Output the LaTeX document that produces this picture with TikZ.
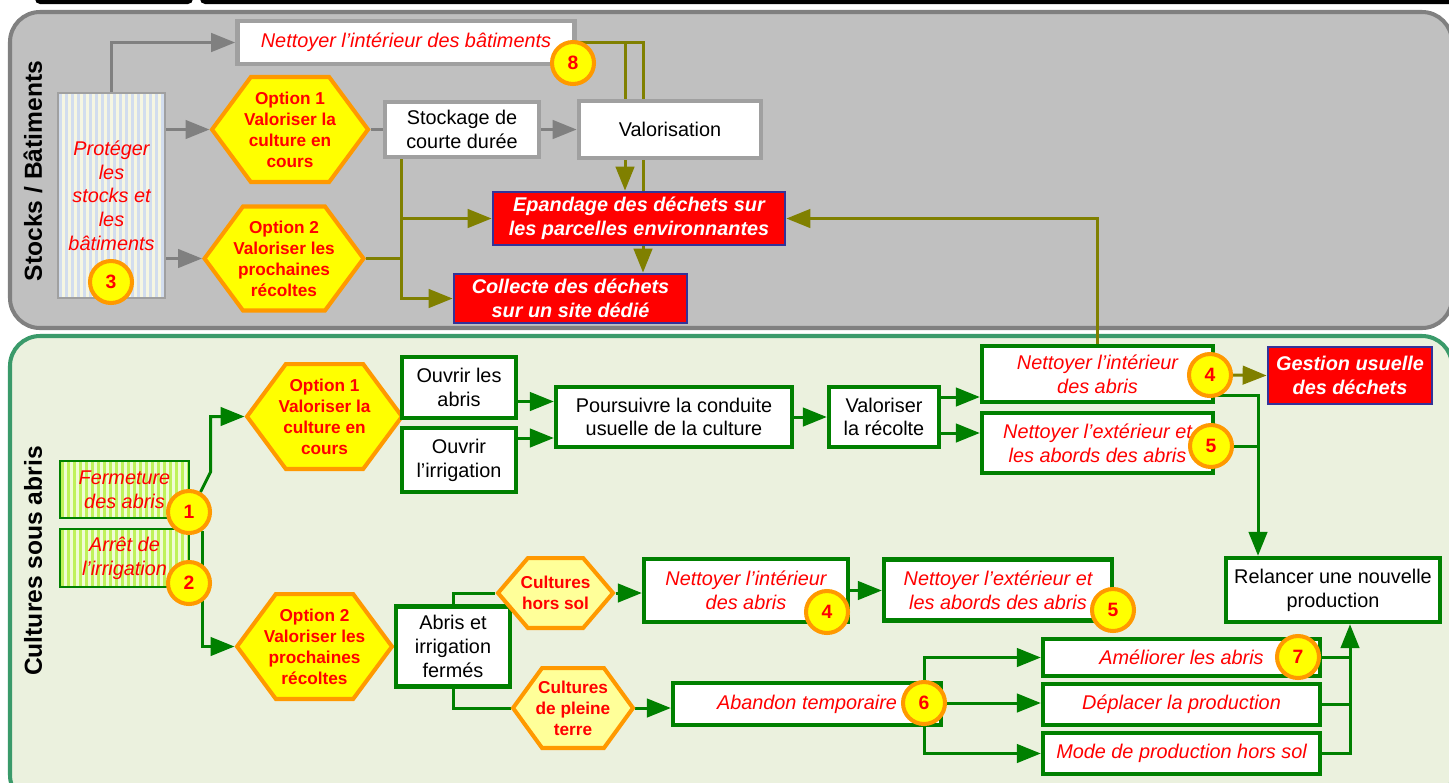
\documentclass[tikz,border=0pt]{standalone}
\usepackage{fontspec}
\setmainfont{Liberation Sans}
\usetikzlibrary{shapes.symbols,arrows.meta,calc}

\definecolor{panelgris}{HTML}{C0C0C0}
\definecolor{bordgris}{HTML}{808080}
\definecolor{panelvert}{HTML}{EBF1DE}
\definecolor{bordvert}{HTML}{3A9A6A}
\definecolor{vertf}{HTML}{008000}
\definecolor{kaki}{HTML}{808000}
\definecolor{orangeh}{HTML}{FF9900}
\definecolor{jaune}{HTML}{FFFF00}
\definecolor{jaunep}{HTML}{FFFF99}
\definecolor{rouge}{HTML}{FF0000}
\definecolor{marine}{HTML}{333399}
\definecolor{grisbox}{HTML}{A0A0A0}
\definecolor{rayebleu}{HTML}{D2DDEE}
\definecolor{rayecreme}{HTML}{F6F6E2}
\definecolor{rayevert}{HTML}{BFF25A}
\definecolor{rayevertp}{HTML}{F0FBD6}

\pgfdeclarelayer{fond}
\pgfdeclarelayer{fils}
\pgfsetlayers{fond,fils,main}

\tikzset{
  txt/.style={font=\fontsize{11.3}{13.5}\selectfont, align=center, inner sep=0pt},
  boitegris/.style={txt, draw=grisbox, line width=2.7pt, fill=white},
  boitevert/.style={txt, draw=vertf, line width=2.5pt, fill=white},
  action/.style={text=rouge, font=\fontsize{11.3}{13.5}\selectfont\itshape},
  dechet/.style={txt, draw=marine, line width=1.6pt, fill=rouge, text=white,
    font=\fontsize{11.3}{13.5}\selectfont\bfseries\itshape},
  hexa/.style={shape=signal, signal to=east and west, draw=orangeh, fill=jaune,
    line width=2.3pt, inner sep=0pt},
  hextxt/.style={text=rouge, align=center, inner sep=0pt,
    font=\fontsize{9.8}{11.9}\selectfont\bfseries},
  num/.style={circle, draw=orangeh, fill=jaune, line width=2.3pt, minimum size=0.84cm,
    inner sep=0pt, text=rouge, font=\fontsize{11}{13}\selectfont\bfseries},
  rayeb/.style={txt, action, draw=grisbox, line width=1.1pt, fill=rayecreme,
    path picture={\foreach \k in {0,...,40}{\fill[rayebleu]
      ($(path picture bounding box.north west)+(\k*6+1,0)$) rectangle ++(3,300);}}},
  rayev/.style={txt, action, draw=vertf, line width=1.1pt, fill=rayevertp,
    path picture={\foreach \k in {0,...,40}{\fill[rayevert]
      ($(path picture bounding box.north west)+(\k*6+1,0)$) rectangle ++(3,300);}}},
  fleche/.style={line width=1.7pt, -{Triangle[length=0.48cm,width=0.37cm]}},
  trait/.style={line width=1.7pt}
}

\begin{document}
\begin{tikzpicture}[x=0.02cm, y=-0.02cm]
  \useasboundingbox (0,0) rectangle (1449,782);

  \begin{pgfonlayer}{fond}
    \fill[black, rounded corners=0.1cm] (35,-10) rectangle (193,4);
    \fill[black, rounded corners=0.1cm] (200,-10) rectangle (1470,4);
    \draw[draw=bordgris, fill=panelgris, line width=2.3pt, rounded corners=0.6cm] (10,12) rectangle (1452,328);
    \draw[draw=bordvert, fill=panelvert, line width=2.3pt, rounded corners=0.6cm] (10,336) rectangle (1452,805);
  \end{pgfonlayer}

  \node[rotate=90, font=\fontsize{14}{16}\selectfont\bfseries] (lstock) at (33,171) {Stocks / Bâtiments};
  \node[rotate=90, font=\fontsize{14}{16}\selectfont\bfseries] (lcult) at (33,561) {Cultures sous abris};

  % stocks et batiments
  \node[rayeb, minimum width=2.14cm, minimum height=4.1cm] (prot) at (111.5,195.5) {Protéger\\les\\stocks et\\les\\bâtiments};
  \node[boitegris, action, minimum width=6.74cm, minimum height=0.86cm] (nbat) at (406,42.5) {Nettoyer l’intérieur des bâtiments};
  \node[hexa, signal pointer angle=107, minimum width=3.12cm, minimum height=2.1cm,
    label={[hextxt]center:Option 1\\Valoriser la\\culture en\\cours}] (opt1) at (290,129.5) {};
  \node[hexa, signal pointer angle=107, minimum width=3.18cm, minimum height=2.08cm,
    label={[hextxt]center:Option 2\\Valoriser les\\prochaines\\récoltes}] (opt2) at (284,258.5) {};
  \node[boitegris, minimum width=3.08cm, minimum height=1.1cm] (stock) at (462,129.5) {Stockage de\\courte durée};
  \node[boitegris, minimum width=3.64cm, minimum height=1.14cm] (valo) at (670,129.5) {Valorisation};
  \node[dechet, minimum width=5.84cm, minimum height=1.06cm] (epan) at (639,218.5) {Epandage des déchets sur\\les parcelles environnantes};
  \node[dechet, minimum width=4.66cm, minimum height=0.98cm] (coll) at (570.5,298.5) {Collecte des déchets\\sur un site dédié};
  \node[num] (c3) at (111,282) {3};
  \node[num] (c8) at (573,63) {8};

  % cultures sous abris
  \node[rayev, minimum width=2.58cm, minimum height=1.14cm] (ferm) at (124.5,489.5) {Fermeture\\des abris};
  \node[rayev, minimum width=2.58cm, minimum height=1.16cm] (arret) at (124.5,558) {Arrêt de\\l’irrigation};
  \node[hexa, signal pointer angle=107, minimum width=3.1cm, minimum height=2.1cm,
    label={[hextxt]center:Option 1\\Valoriser la\\culture en\\cours}] (bopt1) at (324.5,416.5) {};
  \node[hexa, signal pointer angle=107, minimum width=3.1cm, minimum height=2.1cm,
    label={[hextxt]center:Option 2\\Valoriser les\\prochaines\\récoltes}] (bopt2) at (314.5,646.5) {};
  \node[boitevert, minimum width=2.28cm, minimum height=1.22cm] (oabr) at (459,387.5) {Ouvrir les\\abris};
  \node[boitevert, minimum width=2.28cm, minimum height=1.28cm] (oirr) at (459,460) {Ouvrir\\l’irrigation};
  \node[boitevert, minimum width=4.72cm, minimum height=1.2cm] (pours) at (674,417) {Poursuivre la conduite\\usuelle de la culture};
  \node[boitevert, minimum width=2.2cm, minimum height=1.2cm] (vrec) at (884,417) {Valoriser\\la récolte};
  \node[boitevert, action, minimum width=4.62cm, minimum height=1.12cm] (nint) at (1097.5,374) {Nettoyer l’intérieur\\des abris};
  \node[boitevert, action, minimum width=4.62cm, minimum height=1.2cm] (next) at (1097.5,443) {Nettoyer l’extérieur et\\les abords des abris};
  \node[dechet, minimum width=3.28cm, minimum height=1.14cm] (gest) at (1350,375.5) {Gestion usuelle\\des déchets};
  \node[boitevert, minimum width=4.28cm, minimum height=1.28cm] (relan) at (1333,590) {Relancer une nouvelle\\production};
  \node[boitevert, minimum width=2.28cm, minimum height=1.6cm] (abfe) at (453,646.5) {Abris et\\irrigation\\fermés};
  \node[hexa, fill=jaunep, signal pointer angle=99, minimum width=2.3cm, minimum height=1.4cm,
    label={[hextxt]center:Cultures\\hors sol}] (hors) at (555.5,593) {};
  \node[hexa, fill=jaunep, signal pointer angle=108, minimum width=2.4cm, minimum height=1.6cm,
    label={[hextxt]center:Cultures\\de pleine\\terre}] (plein) at (573,708) {};
  \node[boitevert, action, minimum width=4.08cm, minimum height=1.26cm] (nint2) at (746,590.5) {Nettoyer l’intérieur\\des abris};
  \node[boitevert, action, minimum width=4.56cm, minimum height=1.22cm] (next2) at (998,590) {Nettoyer l’extérieur et\\les abords des abris};
  \node[boitevert, action, minimum width=5.36cm, minimum height=0.84cm] (aban) at (807,704) {Abandon temporaire};
  \node[boitevert, action, minimum width=5.54cm, minimum height=0.74cm] (amel) at (1181.5,657.5) {Améliorer les abris};
  \node[boitevert, action, minimum width=5.54cm, minimum height=0.82cm] (depl) at (1181.5,704.5) {Déplacer la production};
  \node[boitevert, action, minimum width=5.54cm, minimum height=0.82cm] (mode) at (1181.5,753.5) {Mode de production hors sol};
  \node[num] (c1) at (189,512) {1};
  \node[num] (c2) at (189,583) {2};
  \node[num] (c4a) at (1210,375) {4};
  \node[num] (c5a) at (1211,446) {5};
  \node[num] (c4b) at (827,612) {4};
  \node[num] (c5b) at (1113,610) {5};
  \node[num] (c6) at (924,703) {6};
  \node[num] (c7) at (1298,657) {7};

  \begin{pgfonlayer}{fils}
    \draw[fleche, bordgris] (prot.north) |- (nbat.west);
    \draw[fleche, bordgris] (prot.east |- opt1) -- (opt1.west);
    \draw[fleche, bordgris] (prot.east |- opt2) -- (opt2.west);
    \draw[trait, bordgris] (opt1.east) -- (stock.west);
    \draw[fleche, bordgris] (stock.east) -- (valo.west);

    \coordinate (sb) at ($(stock.south west)+(19,0)$);
    \draw[fleche, kaki] (sb) |- (epan.west);
    \draw[fleche, kaki] (sb) |- (coll.west);
    \draw[trait, kaki] (opt2.east) -- (opt2.east -| sb);
    \draw[fleche, kaki] (nbat.east) -| ($(epan.north)+(-14,0)$);
    \draw[fleche, kaki] (nbat.east) -| ($(coll.north)+(72.5,0)$);
    \draw[fleche, kaki] (nint.north) |- (epan.east);
    \draw[fleche, kaki] (c4a.east) -- (gest.west);

    \draw[fleche, vertf] (c1.60) -- ++(10,-20) |- (bopt1.west);
    \draw[fleche, vertf] (c1.-55) |- (bopt2.west);
    \coordinate (ya) at ($(oabr.east)+(0,14)$);
    \coordinate (yb) at ($(oirr.east)+(0,-22)$);
    \draw[fleche, vertf] (ya) -- (ya -| pours.west);
    \draw[fleche, vertf] (yb) -- (yb -| pours.west);
    \draw[fleche, vertf] (pours.east) -- (vrec.west);
    \coordinate (yc) at ($(vrec.east)+(0,-20)$);
    \coordinate (yd) at ($(vrec.east)+(0,16)$);
    \draw[fleche, vertf] (yc) -- (yc -| nint.west);
    \draw[fleche, vertf] (yd) -- (yd -| next.west);
    \coordinate (bus) at ($(relan.north)+(-75,0)$);
    \coordinate (ye) at ($(nint.east)+(0,21)$);
    \draw[fleche, vertf] (ye) -| (bus);
    \draw[trait, vertf] (c5a.east) -- (c5a.east -| bus);

    \draw[trait, vertf] (abfe.north) |- (hors.west);
    \draw[trait, vertf] (abfe.south) |- (plein.west);
    \draw[fleche, vertf] (hors.east) -- (hors.east -| nint2.west);
    \draw[fleche, vertf] (nint2.east) -- (nint2.east -| next2.west);
    \draw[fleche, vertf] (plein.east) -- (plein.east -| aban.west);
    \draw[fleche, vertf] (c6.east) -- (c6.east -| depl.west);
    \draw[fleche, vertf] (c6.north) |- (amel.west);
    \draw[fleche, vertf] (c6.south) |- (mode.west);
    \coordinate (bus2) at ($(relan.south)+(17,0)$);
    \draw[trait, vertf] (amel.east) -- (amel.east -| bus2);
    \draw[trait, vertf] (depl.east) -- (depl.east -| bus2);
    \draw[fleche, vertf] (mode.east) -| (bus2);
  \end{pgfonlayer}
\end{tikzpicture}
\end{document}
